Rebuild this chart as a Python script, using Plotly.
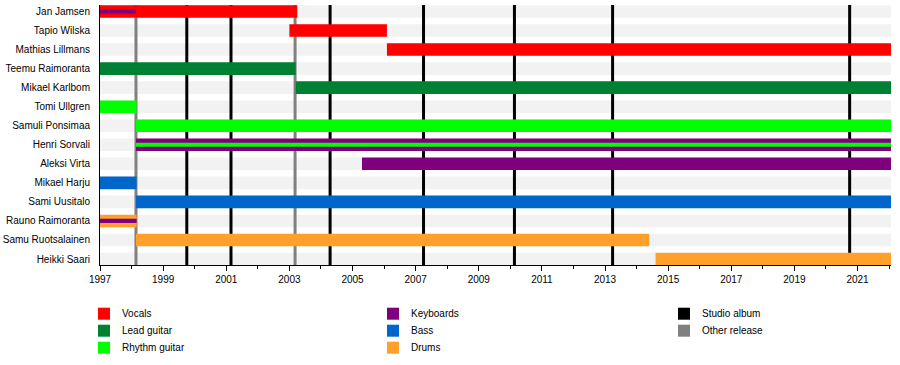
import plotly.graph_objects as go

# ---------------- data ----------------
members = [
    "Jan Jamsen", "Tapio Wilska", "Mathias Lillmans", "Teemu Raimoranta",
    "Mikael Karlbom", "Tomi Ullgren", "Samuli Ponsimaa", "Henri Sorvali",
    "Aleksi Virta", "Mikael Harju", "Sami Uusitalo", "Rauno Raimoranta",
    "Samu Ruotsalainen", "Heikki Saari",
]
START = 1997.0
END = 2022.06

# (member, start, end)
vocals = [("Jan Jamsen", 1997.0, 2003.25), ("Tapio Wilska", 2003.0, 2006.09),
          ("Mathias Lillmans", 2006.09, END)]
lead_guitar = [("Teemu Raimoranta", 1997.0, 2003.2), ("Mikael Karlbom", 2003.2, END)]
rhythm_guitar = [("Tomi Ullgren", 1997.0, 1998.16), ("Samuli Ponsimaa", 1998.14, END)]
rhythm_guitar_thin = [("Henri Sorvali", 1998.14, END)]
keyboards = [("Henri Sorvali", 1998.14, END), ("Aleksi Virta", 2005.3, END)]
keyboards_thin = [("Jan Jamsen", 1997.0, 1998.14), ("Rauno Raimoranta", 1997.0, 1998.16)]
bass = [("Mikael Harju", 1997.0, 1998.16), ("Sami Uusitalo", 1998.14, END)]
drums = [("Rauno Raimoranta", 1997.0, 1998.16), ("Samu Ruotsalainen", 1998.14, 2014.4),
         ("Heikki Saari", 2014.6, END)]

studio_albums = [1999.75, 2001.15, 2004.29, 2007.25, 2010.13, 2013.24, 2020.75]
other_releases = [1998.14, 2003.18]

roles = ["Vocals", "Lead guitar", "Rhythm guitar", "Keyboards", "Bass", "Drums"]
role_colors = ["#ff0000", "#008033", "#00ff00", "#7f007f", "#0066cc", "#ffa02a"]
release_types = ["Studio album", "Other release"]
release_colors = ["#000000", "#808080"]

# ---------------- geometry helpers ----------------
W, H = 900, 365
ML, MR, MT, MB = 100, 9, 5, 100
PW, PH = W - ML - MR, H - MT - MB
BAR_W = 0.66
THIN_W = 0.22
Y_RANGE = [13.315, -0.341]

row = {m: i for i, m in enumerate(members)}

fig = go.Figure()


def add_bars(segs, color, width, name):
    fig.add_trace(go.Bar(
        orientation="h",
        y=[row[m] for m, s, e in segs],
        base=[s for m, s, e in segs],
        x=[e - s for m, s, e in segs],
        width=[width] * len(segs),
        marker=dict(color=color, line=dict(width=0)),
        name=name, showlegend=False, hoverinfo="skip",
    ))


add_bars(vocals, role_colors[0], BAR_W, "Vocals")
add_bars(lead_guitar, role_colors[1], BAR_W, "Lead guitar")
add_bars(rhythm_guitar, role_colors[2], BAR_W, "Rhythm guitar")
add_bars(keyboards, role_colors[3], BAR_W, "Keyboards")
add_bars(bass, role_colors[4], BAR_W, "Bass")
add_bars(drums, role_colors[5], BAR_W, "Drums")
add_bars(keyboards_thin, role_colors[3], THIN_W, "Keyboards")
add_bars(rhythm_guitar_thin, role_colors[2], THIN_W, "Rhythm guitar")

shapes = []
# background bands
for m in members:
    shapes.append(dict(type="rect", xref="x", yref="y", layer="below",
                       x0=START, x1=END, y0=row[m] - BAR_W / 2, y1=row[m] + BAR_W / 2,
                       fillcolor="#f2f2f2", line=dict(width=0)))
# release lines
for d in other_releases:
    shapes.append(dict(type="line", xref="x", yref="y", layer="below",
                       x0=d, x1=d, y0=Y_RANGE[0], y1=Y_RANGE[1],
                       line=dict(color=release_colors[1], width=3)))
for d in studio_albums:
    shapes.append(dict(type="line", xref="x", yref="y", layer="below",
                       x0=d, x1=d, y0=Y_RANGE[0], y1=Y_RANGE[1],
                       line=dict(color=release_colors[0], width=3)))

# custom legend
annotations = []
legend_entries = [(roles[0], role_colors[0], 0, 0), (roles[1], role_colors[1], 0, 1),
                  (roles[2], role_colors[2], 0, 2), (roles[3], role_colors[3], 1, 0),
                  (roles[4], role_colors[4], 1, 1), (roles[5], role_colors[5], 1, 2),
                  (release_types[0], release_colors[0], 2, 0),
                  (release_types[1], release_colors[1], 2, 1)]
col_x = [98, 387, 678]
row_y = [313.7, 330.7, 347.7]


def px(xp):
    return (xp - ML) / PW


def py(yp):
    return (MT + PH - yp) / PH


for name, color, c, r in legend_entries:
    x0, yc = col_x[c], row_y[r]
    shapes.append(dict(type="rect", xref="paper", yref="paper",
                       x0=px(x0), x1=px(x0 + 12), y0=py(yc - 6), y1=py(yc + 6),
                       fillcolor=color, line=dict(width=0)))
    annotations.append(dict(xref="paper", yref="paper", x=px(x0 + 21.5), y=py(yc),
                            xanchor="left", yanchor="middle", showarrow=False,
                            text=name, font=dict(size=10, color="black")))

fig.update_layout(
    width=W, height=H,
    margin=dict(l=ML, r=MR, t=MT, b=MB, autoexpand=False),
    paper_bgcolor="white", plot_bgcolor="white",
    barmode="overlay", showlegend=False,
    font=dict(family="Liberation Sans, Arial, sans-serif", size=10, color="black"),
    shapes=shapes, annotations=annotations,
    xaxis=dict(range=[START, END], tick0=1997, dtick=2, ticks="outside", ticklen=5,
               tickwidth=1, tickcolor="black", showline=True, linecolor="black",
               linewidth=1, showgrid=False, zeroline=False, automargin=False,
               tickfont=dict(size=10, color="black"),
               minor=dict(dtick=1, tick0=1997, ticks="outside", ticklen=3,
                          tickcolor="black", showgrid=False)),
    yaxis=dict(range=Y_RANGE, tickvals=list(range(len(members))),
               ticktext=members, showline=True, linecolor="black", linewidth=1,
               showgrid=False, zeroline=False, ticks="", ticklabelstandoff=7,
               automargin=False, tickfont=dict(size=10, color="black")),
)

fig.write_html(
    "out.html",
    config={"displayModeBar": False, "staticPlot": True},
    post_script="document.body.style.margin='0';document.body.style.overflow='hidden';",
)
